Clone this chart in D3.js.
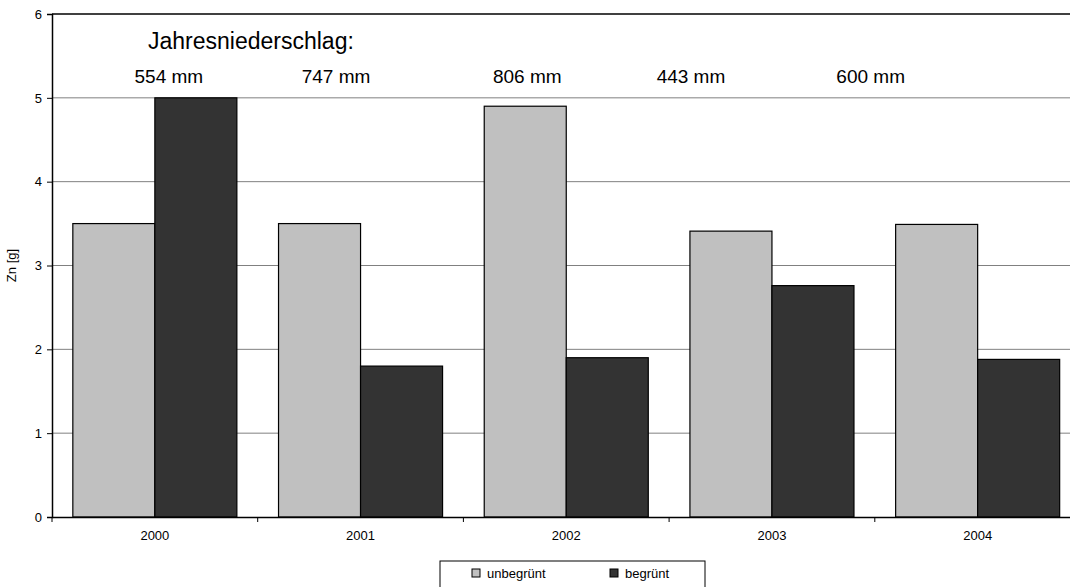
<!DOCTYPE html>
<html>
<head>
<meta charset="utf-8">
<script src="https://cdn.jsdelivr.net/npm/d3@7"></script>
<style>
  html, body { margin: 0; padding: 0; background: #fff; }
  svg { display: block; font-family: "Liberation Sans", Arial, sans-serif; }
</style>
</head>
<body>
<svg id="chart" width="1070" height="587"></svg>
<script>
// Zinc load per year, bare vs. vegetated plots
const years = ["2000", "2001", "2002", "2003", "2004"];
const seriesNames = ["unbegrünt", "begrünt"];
const unbegruent = [3.5, 3.5, 4.9, 3.41, 3.49];
const begruent = [5.0, 1.8, 1.9, 2.76, 1.88];
const rainfall = ["554 mm", "747 mm", "806 mm", "443 mm", "600 mm"];
const yTicks = [0, 1, 2, 3, 4, 5, 6];
const colors = ["#c0c0c0", "#333333"];

const svg = d3.select("#chart");
const margin = { left: 52, top: 14, bottom: 517 };
const bandW = 205.7;
const plotRight = margin.left + bandW * years.length;

const x = d3.scaleBand().domain(years).range([margin.left, plotRight]).paddingInner(0).paddingOuter(0);
const xs = d3.scaleBand().domain(seriesNames).range([0, x.bandwidth()]).paddingInner(0).paddingOuter(0.254);
const y = d3.scaleLinear().domain([0, 6]).range([margin.bottom, margin.top]);

// Horizontal gridlines
svg.append("g").selectAll("line")
  .data(yTicks.filter(d => d > 0 && d < 6))
  .join("line")
  .attr("x1", margin.left).attr("x2", plotRight)
  .attr("y1", d => y(d)).attr("y2", d => y(d))
  .attr("stroke", "#808080").attr("stroke-width", 1);

// Top border of plot area
svg.append("line")
  .attr("x1", margin.left).attr("x2", plotRight)
  .attr("y1", y(6)).attr("y2", y(6))
  .attr("stroke", "#000").attr("stroke-width", 1.5);

// Bars
const rows = years.map((yr, i) => ({ year: yr, vals: [unbegruent[i], begruent[i]] }));
const groups = svg.append("g").selectAll("g")
  .data(rows).join("g")
  .attr("transform", d => `translate(${x(d.year)},0)`);
groups.selectAll("rect")
  .data(d => d.vals.map((v, j) => ({ name: seriesNames[j], v, j })))
  .join("rect")
  .attr("x", d => xs(d.name))
  .attr("width", xs.bandwidth())
  .attr("y", d => y(d.v))
  .attr("height", d => y(0) - y(d.v))
  .attr("fill", d => colors[d.j])
  .attr("stroke", "#000").attr("stroke-width", 1.2);

// Y axis
const yAxis = d3.axisLeft(y).tickValues(yTicks).tickSize(5).tickPadding(5).tickFormat(d3.format("d"));
const gy = svg.append("g").attr("transform", `translate(${margin.left},0)`).call(yAxis);
gy.select(".domain").attr("stroke", "#000").attr("stroke-width", 1.5);
gy.selectAll(".tick line").attr("stroke", "#000");
gy.selectAll(".tick text").attr("font-size", 13).attr("fill", "#000")
  .attr("font-family", "Liberation Sans, Arial, sans-serif");

// X axis
const xAxis = d3.axisBottom(x).tickSize(0).tickPadding(14);
const gx = svg.append("g").attr("transform", `translate(0,${margin.bottom})`).call(xAxis);
gx.select(".domain").attr("stroke", "#000").attr("stroke-width", 1.5);
gx.selectAll(".tick text").attr("font-size", 13).attr("fill", "#000")
  .attr("font-family", "Liberation Sans, Arial, sans-serif");
svg.append("g").selectAll("line")
  .data(years.map((d, i) => margin.left + i * x.bandwidth()).concat([plotRight]))
  .join("line")
  .attr("x1", d => d).attr("x2", d => d)
  .attr("y1", margin.bottom).attr("y2", margin.bottom + 5)
  .attr("stroke", "#000");

// Y axis title
svg.append("text")
  .attr("transform", `translate(16,${(y(0) + y(6)) / 2}) rotate(-90)`)
  .attr("text-anchor", "middle")
  .attr("font-size", 13).attr("fill", "#000")
  .text("Zn [g]");

// Annual rainfall annotations
svg.append("text")
  .attr("x", 148).attr("y", 49)
  .attr("font-size", 23).attr("fill", "#000")
  .text("Jahresniederschlag:");
const rainOffsets = [14, -24.5, -39, -81, -107];
svg.append("g").selectAll("text")
  .data(rainfall)
  .join("text")
  .attr("x", (d, i) => x(years[i]) + x.bandwidth() / 2 + rainOffsets[i])
  .attr("y", 83)
  .attr("text-anchor", "middle")
  .attr("font-size", 19).attr("fill", "#000")
  .text(d => d);

// Legend
const lg = svg.append("g").attr("transform", "translate(440,561)");
lg.append("rect").attr("x", 0).attr("y", 0).attr("width", 265).attr("height", 30)
  .attr("fill", "#fff").attr("stroke", "#000").attr("stroke-width", 1);
const items = [{ name: seriesNames[0], c: colors[0], x: 32 }, { name: seriesNames[1], c: colors[1], x: 170 }];
items.forEach(it => {
  lg.append("rect").attr("x", it.x).attr("y", 8).attr("width", 8).attr("height", 8)
    .attr("fill", it.c).attr("stroke", "#000").attr("stroke-width", 1);
  lg.append("text").attr("x", it.x + 15).attr("y", 17)
    .attr("font-size", 13).attr("fill", "#000").text(it.name);
});
</script>
</body>
</html>
